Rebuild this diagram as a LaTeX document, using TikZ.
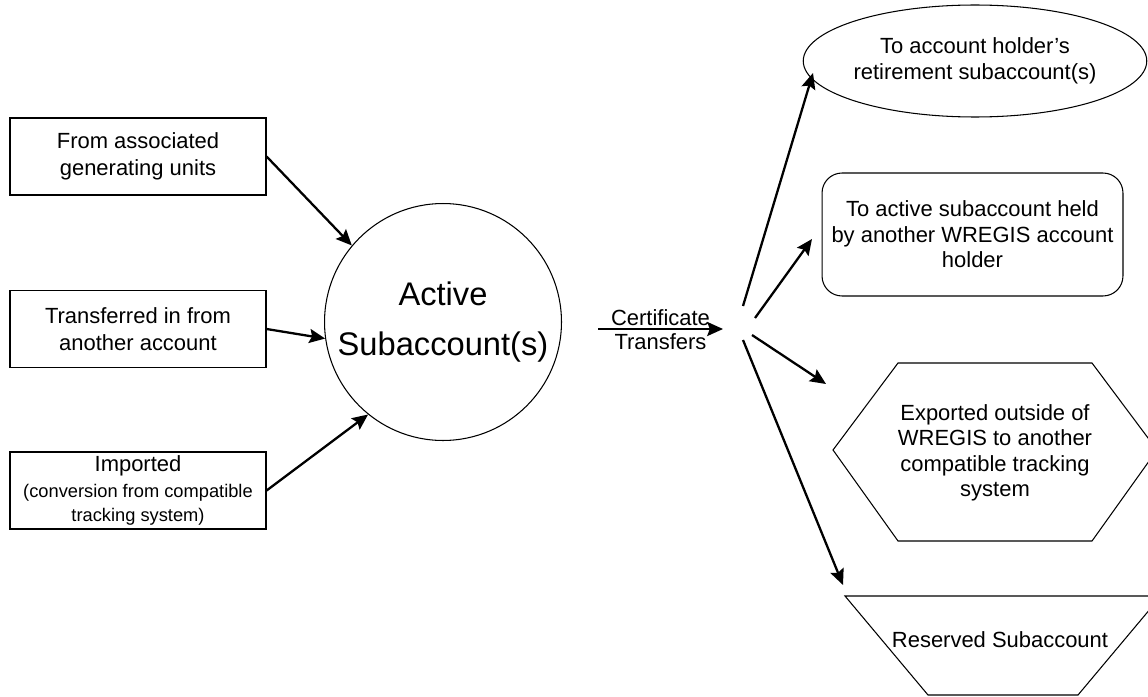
\documentclass[tikz,border=0pt]{standalone}
\usepackage{fontspec}
\setmainfont{Liberation Sans}
\usetikzlibrary{arrows.meta,shapes.geometric}

\newcommand{\mainsize}{\fontsize{12.5}{14.5}\selectfont}
\newcommand{\leftsize}{\fontsize{12.5}{15.5}\selectfont}
\newcommand{\bigsize}{\fontsize{18.6}{28}\selectfont}
\newcommand{\smallsize}{\fontsize{10.4}{12.5}\selectfont}

\begin{document}
\begin{tikzpicture}[x=0.02cm,y=-0.02cm]
\clip (0,0) rectangle (1148,696);

% sources
\begin{scope}[every node/.style={draw,line width=0.7pt,inner sep=0pt,align=center,
              minimum width=5.12cm,minimum height=1.54cm,font=\leftsize}]
    \node (G) at (138,156.5) {From associated\\generating units};
    \node (T) at (138,329) {Transferred in from\\another account};
    \node (I) at (138,490.5) {Imported\\[-1pt]{\smallsize (conversion from compatible}\\[-2pt]{\smallsize tracking system)}};
\end{scope}

% subaccount and targets
\begin{scope}[every node/.style={draw,line width=0.6pt,inner sep=0pt,align=center,font=\mainsize}]
    \node (S) [circle,minimum size=4.74cm,font=\bigsize] at (443,322) {Active\\Subaccount(s)};
    \node (R) [ellipse,minimum width=6.12cm,minimum height=2.24cm] at (975,61) {To account holder's\\retirement subaccount(s)};
    \node (H) [rounded corners=0.4cm,minimum width=6.02cm,minimum height=2.46cm] at (972.5,234.5) {To active subaccount held\\by another WREGIS account\\holder};
\end{scope}

\draw[line width=0.6pt] (833,450) -- (898,363) -- (1092,363) -- (1157,450) -- (1092,541) -- (898,541) -- cycle;
\node (E) [align=center,font=\mainsize] at (995,453) {Exported outside of\\WREGIS to another\\compatible tracking\\system};
\draw[line width=0.6pt] (845,596) -- (1161,596) -- (1078,695) -- (928,695) -- cycle;
\node (V) [font=\mainsize] at (1000,640) {Reserved Subaccount};

% fan points
\coordinate (C1) at (598,329);
\coordinate (C2) at (723,329);
\coordinate (F1) at (743,306);
\coordinate (F2) at (755,318);
\coordinate (F3) at (752,335);
\coordinate (F4) at (743,340);
\coordinate (R1) at (813,73);
\coordinate (H1) at (812,239);
\coordinate (E1) at (826,384);
\coordinate (V1) at (843,585);

\begin{scope}[>={Stealth[length=9pt,width=8pt,inset=1.5pt]},
              every path/.style={line width=1.3pt}]
    \draw [->] (G.east) -- (S.140);
    \draw [->] (T.east) -- (S.188);
    \draw [->] (I.east) -- (S.231);
    \draw [->] (C1) -- (C2)
        node[midway,above,inner sep=1.5pt,font=\mainsize] {Certificate}
        node[midway,below,inner sep=2pt,font=\mainsize] {Transfers};
    \draw [->] (F1) -- (R1);
    \draw [->] (F2) -- (H1);
    \draw [->] (F3) -- (E1);
    \draw [->] (F4) -- (V1);
\end{scope}
\end{tikzpicture}
\end{document}
